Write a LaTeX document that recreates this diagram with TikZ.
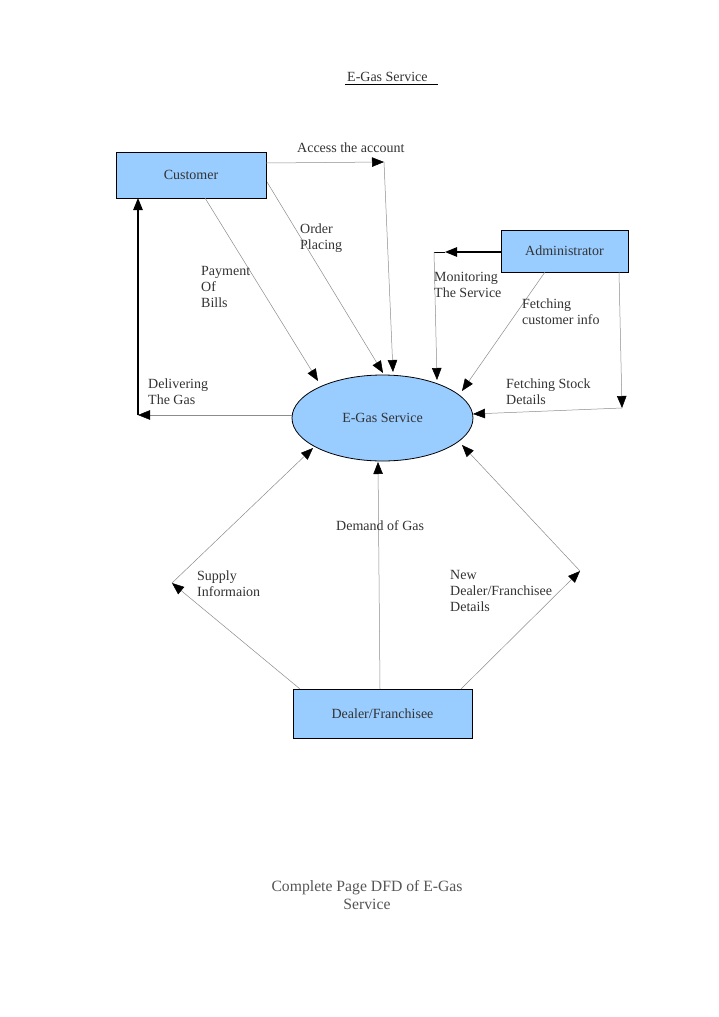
\documentclass[tikz,border=0pt]{standalone}
\usepackage{fontspec}
\setmainfont{Liberation Serif}
\usetikzlibrary{arrows.meta,shapes.geometric}
\definecolor{boxblue}{HTML}{99CCFF}
\definecolor{txt}{HTML}{333333}
\definecolor{flow}{HTML}{8C8C8C}
\definecolor{captxt}{HTML}{555555}
\begin{document}
\begin{tikzpicture}[x=1pt,y=-1pt,
  entity/.style={rectangle,draw=black,line width=0.8pt,fill=boxblue,
    font=\fontsize{14}{16}\selectfont,text=txt,inner sep=0pt},
  proc/.style={ellipse,draw=black,line width=0.8pt,fill=boxblue,
    font=\fontsize{14}{16}\selectfont,text=txt,inner sep=0pt,
    minimum width=181pt,minimum height=86pt},
  flowarrow/.style={draw=flow,line width=0.5pt,
    -{Triangle[length=12pt,width=9.5pt,color=black]}},
  solidarrow/.style={draw=black,line width=1.1pt,
    -{Triangle[length=12pt,width=9.5pt,color=black]}},
  lbl/.style={font=\fontsize{14}{16}\selectfont,text=txt,align=left,
    inner sep=0pt,anchor=north west},
  captionstyle/.style={font=\fontsize{15.7}{18}\selectfont,text=captxt,align=center,inner sep=0pt}
]
\useasboundingbox (0,0) rectangle (719,1017);
\fill[white] (0,0) rectangle (719,1017);

% title
\node[font=\fontsize{14}{16}\selectfont,text=txt,inner sep=0pt,anchor=base west] (title) at (347,81.5) {E-Gas Service};
\draw[black,line width=0.6pt] (345,84.5) -- (438,84.5);

% nodes
\node[entity,minimum width=150pt,minimum height=46pt] (cust) at (191,175) {Customer};
\node[entity,minimum width=127pt,minimum height=42pt] (admin) at (564.5,251) {Administrator};
\node[entity,minimum width=179pt,minimum height=49pt] (dealer) at (382.5,713.5) {Dealer/Franchisee};
\node[proc] (egas) at (382.5,418) {E-Gas Service};

% coordinates
\coordinate (accS) at (266,163);
\coordinate (accC) at (384,162);
\coordinate (accE) at (393,372);
\coordinate (ordS) at (267,182);
\coordinate (ordE) at (383,373);
\coordinate (payS) at (205,198);
\coordinate (payE) at (318,381);
\coordinate (delS) at (292,415);
\coordinate (delC) at (138,415);
\coordinate (delE) at (138,198);
\coordinate (monS) at (501,252);
\coordinate (monA) at (445,252);
\coordinate (monC) at (434,252);
\coordinate (monE) at (437,380);
\coordinate (fciS) at (545,272);
\coordinate (fciE) at (462,391);
\coordinate (fsdS) at (619,272);
\coordinate (fsdC) at (622,408);
\coordinate (fsdE) at (473,414);
\coordinate (supS) at (300,689);
\coordinate (supC) at (172,583);
\coordinate (supE) at (313,448);
\coordinate (demS) at (380,689);
\coordinate (demE) at (378,462);
\coordinate (newS) at (461,689);
\coordinate (newC) at (580,571);
\coordinate (newE) at (462,445);

% connectors
\draw[flowarrow] (accS) -- (accC);
\draw[flowarrow] (accC) -- (accE);
\draw[flowarrow] (ordS) -- (ordE);
\draw[flowarrow] (payS) -- (payE);
\draw[flowarrow] (delS) -- (delC);
\draw[solidarrow] (delC) -- (delE);
\draw[solidarrow] (monS) -- (monA);
\draw[black,line width=0.6pt] (monA) -- (monC);
\draw[flowarrow] (monC) -- (monE);
\draw[flowarrow] (fciS) -- (fciE);
\draw[flowarrow] (fsdS) -- (fsdC);
\draw[flowarrow] (fsdC) -- (fsdE);
\draw[flowarrow] (supS) -- (supC);
\draw[flowarrow] (supC) -- (supE);
\draw[flowarrow] (demS) -- (demE);
\draw[flowarrow] (newS) -- (newC);
\draw[flowarrow] (newC) -- (newE);

% labels
\node[lbl] (lacc) at (297,142.4) {Access the account};
\node[lbl] (lord) at (300,223.4) {Order\\Placing};
\node[lbl] (lpay) at (201,266.4) {Payment\\Of\\Bills};
\node[lbl] (ldel) at (148,378.4) {Delivering\\The Gas};
\node[lbl] (lmon) at (434,272.4) {Monitoring\\The Service};
\node[lbl] (lfci) at (522,298.4) {Fetching\\customer info};
\node[lbl] (lfsd) at (506,378.4) {Fetching Stock\\Details};
\node[lbl] (lsup) at (197,570.4) {Supply\\Informaion};
\node[lbl] (ldem) at (336,520.4) {Demand of Gas};
\node[lbl] (lnew) at (450,570.4) {New\\Dealer/Franchisee\\Details};

% caption
\node[captionstyle,anchor=north] (cap) at (367,880.5) {Complete Page DFD of E-Gas\\Service};
\end{tikzpicture}
\end{document}
